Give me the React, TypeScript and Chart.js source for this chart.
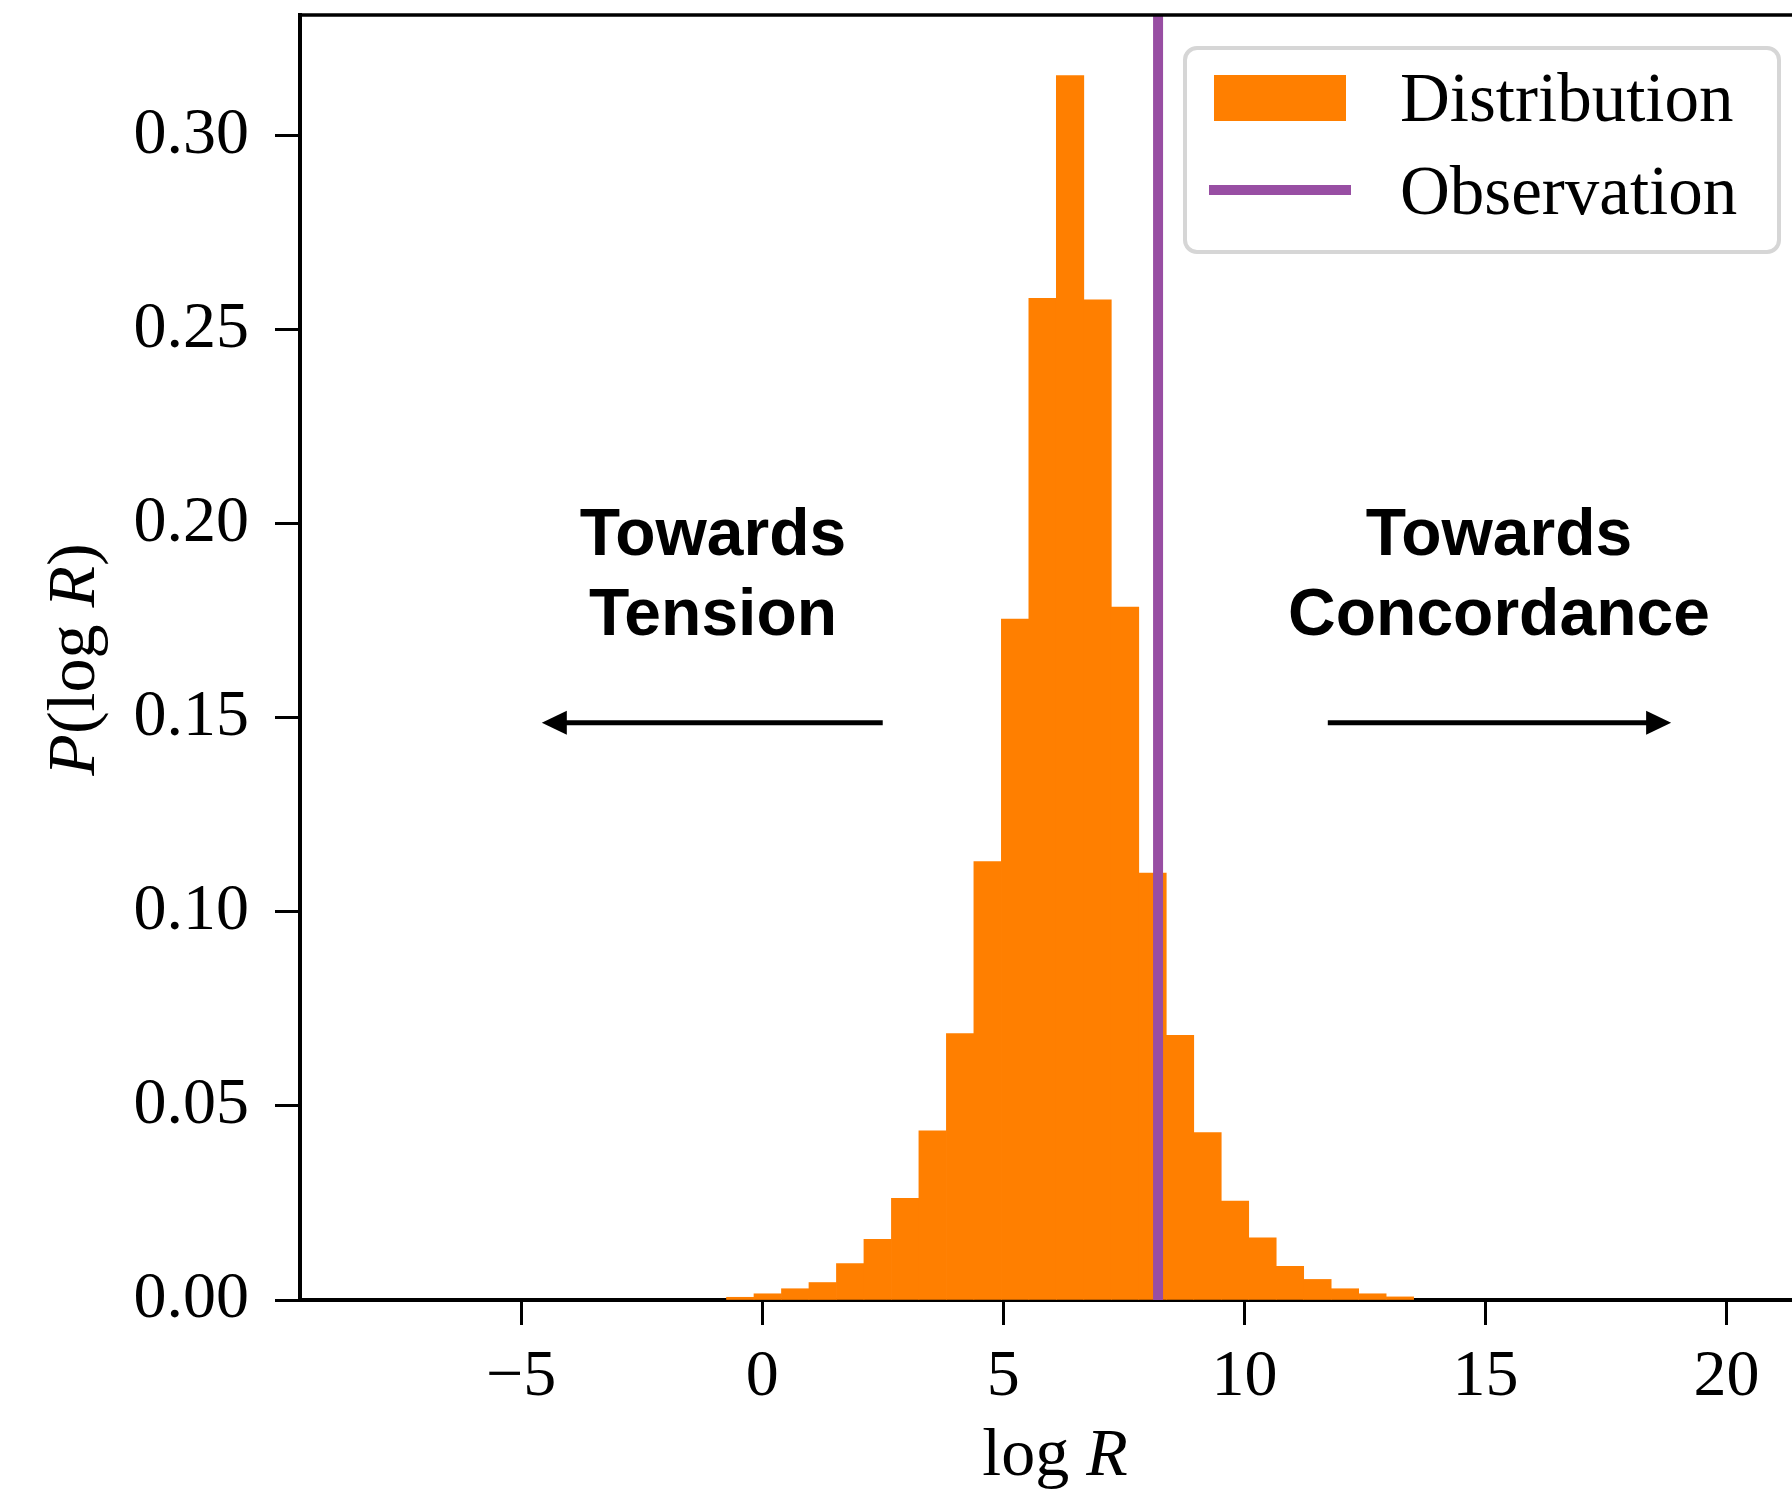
import React, { useEffect, useRef } from "react";
import { Chart, registerables } from "chart.js";

Chart.register(...registerables);

// ---- data ----
const binEdges = [
  -0.74, -0.17, 0.4, 0.97, 1.54, 2.11, 2.68, 3.25, 3.82, 4.39, 4.96, 5.53, 6.1,
  6.67, 7.24, 7.81, 8.38, 8.95, 9.52, 10.09, 10.66, 11.23, 11.8, 12.37, 12.94, 13.51,
];
const densities = [
  0.0007, 0.0016, 0.0029, 0.0045, 0.0094, 0.0156, 0.0262, 0.0436, 0.0686, 0.1129,
  0.1754, 0.258, 0.3154, 0.2576, 0.1785, 0.11, 0.0682, 0.0431, 0.0255, 0.016,
  0.0087, 0.0053, 0.0029, 0.0016, 0.0008,
];
const observation = 8.21;
const xTicks = [-5, 0, 5, 10, 15, 20];
const yTicks = [0, 0.05, 0.1, 0.15, 0.2, 0.25, 0.3];
const xRange = [-9.585, 21.73];
const yRange = [0, 0.331];
const seriesLabels = ["Distribution", "Observation"];

// annotation placement (data coordinates)
const leftNote = { lines: ["Towards", "Tension"], x: -1.02, arrowFrom: 2.5, arrowTo: -4.57 };
const rightNote = { lines: ["Towards", "Concordance"], x: 15.28, arrowFrom: 11.73, arrowTo: 18.85 };
const noteBaselines = [0.192, 0.1714];
const arrowY = 0.1487;

// ---- styles ----
const ORANGE = "#ff7f00";
const PURPLE = "#984ea3";
const SERIF = '"Liberation Serif", "DejaVu Serif", serif';
const SANS = '"Liberation Sans", Arial, sans-serif';

type Part = { t: string; italic?: boolean };

function drawMixed(ctx: CanvasRenderingContext2D, parts: Part[], size: number, x: number, y: number) {
  const fonts = parts.map((p) => `${p.italic ? "italic " : ""}${size}px ${SERIF}`);
  const widths = parts.map((p, i) => {
    ctx.font = fonts[i];
    return ctx.measureText(p.t).width;
  });
  const total = widths.reduce((a, b) => a + b, 0);
  let cx = x - total / 2;
  ctx.textAlign = "left";
  ctx.textBaseline = "alphabetic";
  parts.forEach((p, i) => {
    ctx.font = fonts[i];
    ctx.fillText(p.t, cx, y);
    cx += widths[i];
  });
}

const decorPlugin = {
  id: "decor",
  afterDatasetsDraw(chart: any) {
    const { ctx, chartArea, scales } = chart;
    const xs = scales.x;
    const ys = scales.y;
    ctx.save();
    ctx.fillStyle = "#000";
    ctx.strokeStyle = "#000";

    // top spine
    ctx.lineWidth = 3.5;
    ctx.beginPath();
    ctx.moveTo(chartArea.left - 2, chartArea.top);
    ctx.lineTo(chartArea.right, chartArea.top);
    ctx.stroke();

    // annotations
    [leftNote, rightNote].forEach((n) => {
      const px = xs.getPixelForValue(n.x);
      ctx.font = `bold 66px ${SANS}`;
      ctx.textAlign = "center";
      ctx.textBaseline = "alphabetic";
      n.lines.forEach((line, i) => ctx.fillText(line, px, ys.getPixelForValue(noteBaselines[i])));
      const ay = ys.getPixelForValue(arrowY);
      const x0 = xs.getPixelForValue(n.arrowFrom);
      const x1 = xs.getPixelForValue(n.arrowTo);
      const dir = Math.sign(x1 - x0);
      const headLen = 25;
      const headHalf = 12;
      ctx.lineWidth = 5;
      ctx.beginPath();
      ctx.moveTo(x0, ay);
      ctx.lineTo(x1 - dir * headLen * 0.8, ay);
      ctx.stroke();
      ctx.beginPath();
      ctx.moveTo(x1, ay);
      ctx.lineTo(x1 - dir * headLen, ay - headHalf);
      ctx.lineTo(x1 - dir * headLen, ay + headHalf);
      ctx.closePath();
      ctx.fill();
    });

    // axis titles
    ctx.fillStyle = "#000";
    drawMixed(ctx, [{ t: "log " }, { t: "R", italic: true }], 68, (chartArea.left + chartArea.right) / 2, 1475);
    ctx.save();
    ctx.translate(94, (chartArea.top + chartArea.bottom) / 2 + 2);
    ctx.rotate(-Math.PI / 2);
    drawMixed(
      ctx,
      [{ t: "P", italic: true }, { t: "(log " }, { t: "R", italic: true }, { t: ")" }],
      68,
      0,
      0
    );
    ctx.restore();

    // legend
    const bx1 = chartArea.right - 31;
    const by0 = chartArea.top + 33;
    const bx0 = bx1 - 594;
    const by1 = by0 + 204;
    const r = 12;
    ctx.beginPath();
    ctx.moveTo(bx0 + r, by0);
    ctx.arcTo(bx1, by0, bx1, by1, r);
    ctx.arcTo(bx1, by1, bx0, by1, r);
    ctx.arcTo(bx0, by1, bx0, by0, r);
    ctx.arcTo(bx0, by0, bx1, by0, r);
    ctx.closePath();
    ctx.fillStyle = "rgba(255,255,255,0.9)";
    ctx.fill();
    ctx.lineWidth = 4;
    ctx.strokeStyle = "#d6d6d6";
    ctx.stroke();

    const dsBar = chart.data.datasets.find((d: any) => d.type === "bar");
    const dsLine = chart.data.datasets.find((d: any) => d.type === "line");
    ctx.fillStyle = dsBar.backgroundColor;
    ctx.fillRect(bx0 + 29, by0 + 27, 132, 46);
    ctx.strokeStyle = dsLine.borderColor;
    ctx.lineWidth = 10;
    ctx.beginPath();
    ctx.moveTo(bx0 + 24, by0 + 142);
    ctx.lineTo(bx0 + 166, by0 + 142);
    ctx.stroke();
    ctx.fillStyle = "#000";
    ctx.font = `69px ${SERIF}`;
    ctx.textAlign = "left";
    ctx.textBaseline = "alphabetic";
    ctx.fillText(dsBar.label, bx0 + 215, by0 + 73);
    ctx.fillText(dsLine.label, bx0 + 215, by0 + 166);
    ctx.restore();
  },
};

export default function App() {
  const ref = useRef<HTMLCanvasElement>(null);
  useEffect(() => {
    const bars = densities.map((v, i) => ({ x: (binEdges[i] + binEdges[i + 1]) / 2, y: v }));
    const chart = new Chart(ref.current as HTMLCanvasElement, {
      type: "bar",
      data: {
        datasets: [
          {
            type: "line",
            label: seriesLabels[1],
            data: [
              { x: observation, y: yRange[0] },
              { x: observation, y: yRange[1] },
            ],
            borderColor: PURPLE,
            backgroundColor: PURPLE,
            borderWidth: 10,
            pointRadius: 0,
            order: 0,
          } as any,
          {
            type: "bar",
            label: seriesLabels[0],
            data: bars,
            backgroundColor: ORANGE,
            borderWidth: 0,
            barPercentage: 1,
            categoryPercentage: 1,
            grouped: false,
            order: 1,
          } as any,
        ],
      },
      options: {
        responsive: false,
        animation: false,
        devicePixelRatio: 1,
        layout: { padding: { top: 15, right: 20, left: 0, bottom: 0 } },
        plugins: { legend: { display: false }, tooltip: { enabled: false } },
        scales: {
          x: {
            type: "linear",
            min: xRange[0],
            max: xRange[1],
            offset: false,
            grid: {
              display: true,
              offset: false,
              drawOnChartArea: false,
              drawTicks: true,
              tickLength: 25,
              tickWidth: 3,
              tickColor: "#000",
            },
            border: { display: true, color: "#000", width: 4 },
            ticks: {
              font: { family: SERIF, size: 66 },
              color: "#000",
              padding: 13,
              maxRotation: 0,
              autoSkip: false,
              callback: (v: any) => (v < 0 ? "\u2212" + Math.abs(v) : String(v)),
            },
            afterBuildTicks: (scale: any) => {
              scale.ticks = xTicks.map((v) => ({ value: v }));
            },
            afterFit: (scale: any) => {
              scale.height = 197;
              scale.paddingLeft = 0;
              scale.paddingRight = 0;
            },
          } as any,
          y: {
            type: "linear",
            min: yRange[0],
            max: yRange[1],
            grid: {
              display: true,
              drawOnChartArea: false,
              drawTicks: true,
              tickLength: 25,
              tickWidth: 3,
              tickColor: "#000",
            },
            border: { display: true, color: "#000", width: 4 },
            ticks: {
              font: { family: SERIF, size: 66 },
              color: "#000",
              padding: 26,
              autoSkip: false,
              callback: (v: any) => Number(v).toFixed(2),
            },
            afterBuildTicks: (scale: any) => {
              scale.ticks = yTicks.map((v) => ({ value: v }));
            },
            afterFit: (scale: any) => {
              scale.width = 300;
              scale.paddingTop = 0;
              scale.paddingBottom = 0;
            },
          } as any,
        },
      },
      plugins: [decorPlugin],
    });
    return () => chart.destroy();
  }, []);

  return (
    <div
      style={{
        position: "absolute",
        left: 0,
        top: 0,
        width: 1792,
        height: 1497,
        overflow: "hidden",
        background: "#fff",
      }}
    >
      <canvas ref={ref} width={1830} height={1497} style={{ display: "block", width: 1830, height: 1497 }} />
    </div>
  );
}
